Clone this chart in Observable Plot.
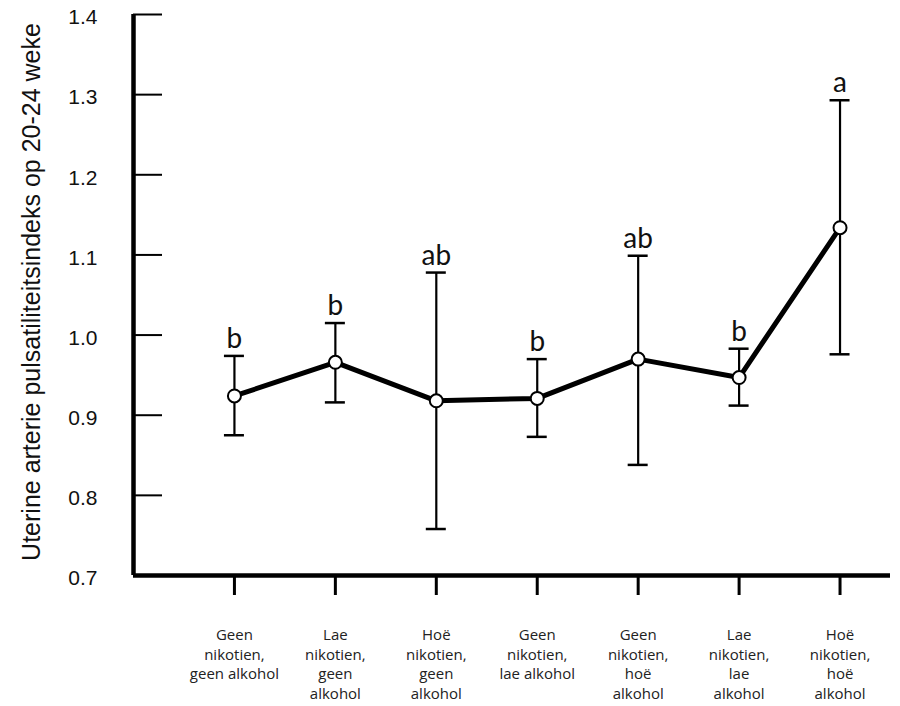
<!DOCTYPE html>
<html>
<head>
<meta charset="utf-8">
<script src="https://cdn.jsdelivr.net/npm/d3@7"></script>
<script src="https://cdn.jsdelivr.net/npm/@observablehq/plot@0.6"></script>
<style>
  html, body { margin: 0; padding: 0; background: #fff; }
  #chart { width: 900px; height: 706px; overflow: hidden; }
</style>
</head>
<body>
<div id="chart"></div>
<script>
// ---- data ----
const categories = [
  "Geen\nnikotien,\ngeen alkohol",
  "Lae\nnikotien,\ngeen\nalkohol",
  "Hoë\nnikotien,\ngeen\nalkohol",
  "Geen\nnikotien,\nlae alkohol",
  "Geen\nnikotien,\nhoë\nalkohol",
  "Lae\nnikotien,\nlae\nalkohol",
  "Hoë\nnikotien,\nhoë\nalkohol"
];
const means  = [0.924, 0.966, 0.918, 0.921, 0.970, 0.947, 1.134];
const upper  = [0.974, 1.015, 1.078, 0.970, 1.099, 0.983, 1.293];
const lower  = [0.875, 0.916, 0.758, 0.873, 0.838, 0.912, 0.976];
const letters = ["b", "b", "ab", "b", "ab", "b", "a"];
const yTicks = [0.7, 0.8, 0.9, 1.0, 1.1, 1.2, 1.3, 1.4];
const yTitle = "Uterine arterie pulsatiliteitsindeks op 20-24 weke";

const rows = categories.map((c, i) => ({i, cat: c, mean: means[i], hi: upper[i], lo: lower[i], letter: letters[i]}));
const idx = rows.map(d => d.i);
const xDomain = [-1, categories.length - 0.5];
const yDomain = [yTicks[0], yTicks[yTicks.length - 1]];

const chart = Plot.plot({
  width: 900,
  height: 706,
  marginTop: 14,
  marginLeft: 133,
  marginRight: 10,
  marginBottom: 131,
  style: {background: "white", color: "black"},
  x: {type: "linear", domain: xDomain, axis: null},
  y: {domain: yDomain, axis: null},
  marks: [
    // y tick labels
    Plot.axisY(yTicks, {tickSize: 0, tickPadding: 36, tickFormat: d => d.toFixed(1), fontSize: 21,
      fontFamily: "Liberation Sans, Arial, sans-serif", fill: "#111", dy: 3, label: null}),
    // y tick marks pointing inward
    Plot.ruleY(yTicks.slice(1), {x1: xDomain[0], x2: xDomain[0], insetRight: -29, stroke: "black", strokeWidth: 2}),
    // x ticks and category labels
    Plot.axisX(idx, {tickSize: 20, tickPadding: 31, tickFormat: i => categories[i], fontSize: 15,
      lineHeight: 1.3, strokeWidth: 3, fill: "#222", fontFamily: "Open Sans, sans-serif", label: null}),
    // axis lines
    Plot.ruleY([yDomain[0]], {stroke: "black", strokeWidth: 4.5}),
    Plot.ruleX([xDomain[0]], {y1: yDomain[0], y2: yDomain[1], stroke: "black", strokeWidth: 4.5}),
    // error bars
    Plot.ruleX(rows, {x: "i", y1: "lo", y2: "hi", stroke: "black", strokeWidth: 2.2}),
    Plot.ruleY(rows, {x1: "i", x2: "i", y: "hi", insetLeft: -10, insetRight: -10, stroke: "black", strokeWidth: 2.5}),
    Plot.ruleY(rows, {x1: "i", x2: "i", y: "lo", insetLeft: -10, insetRight: -10, stroke: "black", strokeWidth: 2.5}),
    // mean line
    Plot.line(rows, {x: "i", y: "mean", stroke: "black", strokeWidth: 5}),
    Plot.dot(rows, {x: "i", y: "mean", r: 6.5, fill: "white", stroke: "black", strokeWidth: 2}),
    // significance letters
    Plot.text(rows, {x: "i", y: "hi", text: "letter", dy: -8, lineAnchor: "bottom", fontSize: 28,
      fontFamily: "Lato, sans-serif", fill: "#111"}),
    // y title
    Plot.text([yTitle], {frameAnchor: "left", rotate: -90, dx: -102, dy: -3, fontSize: 25,
      fontFamily: "Liberation Sans, Arial, sans-serif", fill: "#111", textAnchor: "middle", lineAnchor: "middle"})
  ]
});
document.getElementById("chart").appendChild(chart);
</script>
</body>
</html>
